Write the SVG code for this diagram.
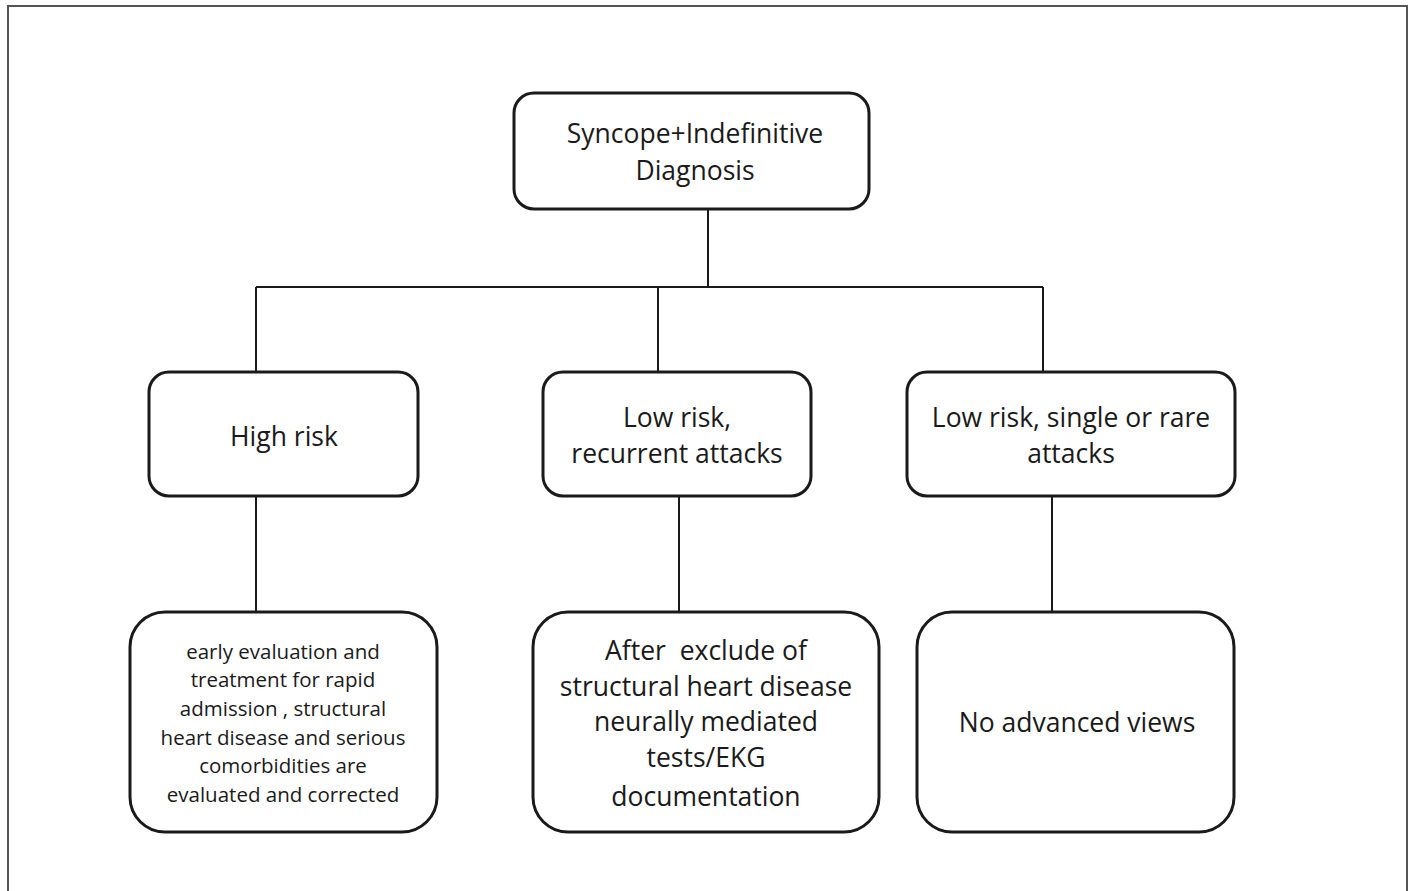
<svg xmlns="http://www.w3.org/2000/svg" width="1410" height="891" viewBox="0 0 1410 891">
<style>
.box{fill:#fff;stroke:#1a1a1a;stroke-width:3}
.ln{stroke:#1a1a1a;stroke-width:2;fill:none}
.t{font-family:"Open Sans","Noto Sans",sans-serif;fill:#1a1a1a;text-anchor:middle}
.l{font-size:26.5px}
.s{font-size:20.5px}
</style>
<rect x="0" y="0" width="1410" height="891" fill="#fff"/>
<rect x="8" y="6" width="1399" height="900" fill="none" stroke="#555" stroke-width="2"/>
<g id="connectors">
<path class="ln" d="M708 209V287M256 287H1043M256 287V372M658 287V372M1043 287V372"/>
<path class="ln" d="M256 496V612M679 496V612M1052 496V612"/>
</g>
<g id="n_top">
<rect class="box" x="514" y="93" width="355" height="116" rx="20"/>
<text class="t l" x="695" y="143">Syncope+Indefinitive</text>
<text class="t l" x="695" y="180">Diagnosis</text>
</g>
<g id="n_high">
<rect class="box" x="149" y="372" width="269" height="124" rx="20"/>
<text class="t l" x="284" y="446">High risk</text>
</g>
<g id="n_lowrec">
<rect class="box" x="543" y="372" width="268" height="124" rx="20"/>
<text class="t l" x="677" y="427">Low risk,</text>
<text class="t l" x="677" y="463">recurrent attacks</text>
</g>
<g id="n_lowsingle">
<rect class="box" x="907" y="372" width="328" height="124" rx="20"/>
<text class="t l" x="1071" y="427">Low risk, single or rare</text>
<text class="t l" x="1071" y="463">attacks</text>
</g>
<g id="n_early">
<rect class="box" x="130" y="612" width="307" height="220" rx="35"/>
<text class="t s" x="283" y="659">early evaluation and</text>
<text class="t s" x="283" y="687">treatment for rapid</text>
<text class="t s" x="283" y="716">admission , structural</text>
<text class="t s" x="283" y="745">heart disease and serious</text>
<text class="t s" x="283" y="773">comorbidities are</text>
<text class="t s" x="283" y="802">evaluated and corrected</text>
</g>
<g id="n_after">
<rect class="box" x="533" y="612" width="346" height="220" rx="35"/>
<text class="t l" x="706" y="660" xml:space="preserve">After  exclude of</text>
<text class="t l" x="706" y="696">structural heart disease</text>
<text class="t l" x="706" y="731">neurally mediated</text>
<text class="t l" x="706" y="767">tests/EKG</text>
<text class="t l" x="706" y="806">documentation</text>
</g>
<g id="n_noadv">
<rect class="box" x="917" y="612" width="317" height="220" rx="35"/>
<text class="t l" x="1077" y="732">No advanced views</text>
</g>
</svg>
